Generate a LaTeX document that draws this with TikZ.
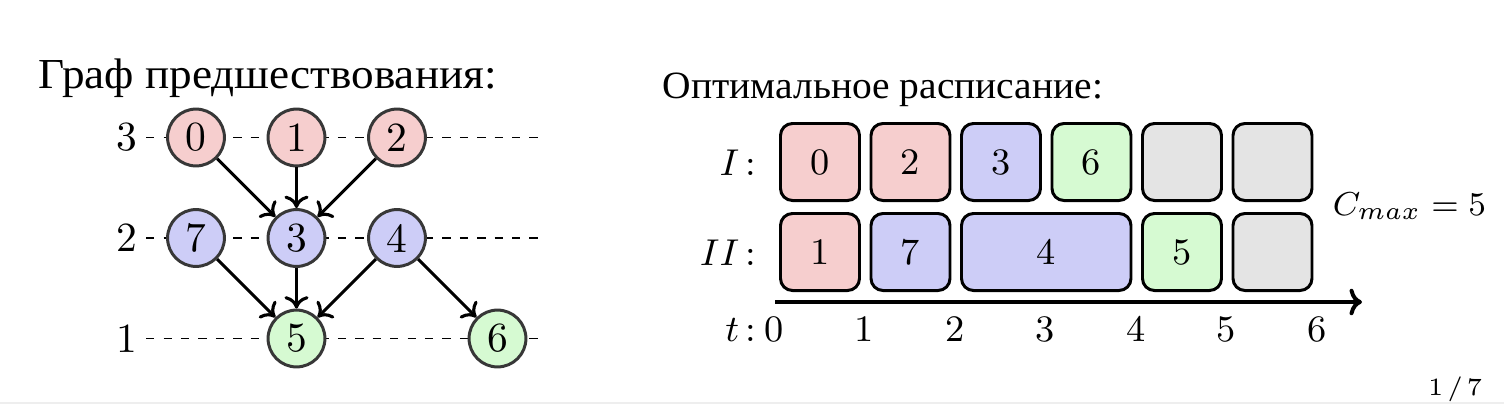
\documentclass[tikz,border=0pt]{standalone}
\usepackage{fontspec}
\usepackage{graphicx}
\usetikzlibrary{arrows.meta}
\newfontfamily\cyrfont{Liberation Serif}
\definecolor{cred}{RGB}{246,206,206}
\definecolor{cblue}{RGB}{205,205,247}
\definecolor{cgreen}{RGB}{214,250,210}
\definecolor{cgray}{RGB}{228,228,228}
\definecolor{cborder}{RGB}{55,55,55}
\definecolor{cfoot}{RGB}{238,238,238}
\begin{document}
\begin{tikzpicture}[x=0.241pt,y=-0.241pt,
  bigtxt/.style={font=\fontsize{10}{12}\selectfont},
  smalltxt/.style={font=\fontsize{9}{11}\selectfont},
  vtx/.style={circle,draw=cborder,line width=0.72pt,minimum size=13.7pt,inner sep=0pt,bigtxt},
  rvtx/.style={vtx,fill=cred},
  bvtx/.style={vtx,fill=cblue},
  gvtx/.style={vtx,fill=cgreen},
  lvl/.style={inner sep=0pt,bigtxt},
  guide/.style={line width=0.4pt,dash pattern=on 2pt off 2.2pt},
  dep/.style={-{To[length=3pt,width=5.8pt]},line width=0.75pt},
  job/.style={draw=black,line width=0.72pt,rounded corners=2.9pt,minimum width=19.04pt,minimum height=18.56pt,inner sep=0pt,smalltxt},
  rjob/.style={job,fill=cred},
  bjob/.style={job,fill=cblue},
  gjob/.style={job,fill=cgreen},
  ejob/.style={job,fill=cgray},
  axisline/.style={-{To[length=3pt,width=6.4pt]},line width=0.96pt},
  plain/.style={inner sep=0pt},
]
\useasboundingbox (0,0) rectangle (1504,404);

% ---- left: precedence graph ----
\node[plain,font=\cyrfont\fontsize{10.3}{12}\selectfont,anchor=base west] (title1) at (38,88) {\scalebox{1.058}[1]{Граф предшествования:}};

\node[lvl] (l3) at (127,137.5) {3};
\node[lvl] (l2) at (127,238) {2};
\node[lvl] (l1) at (127,338.5) {1};
\coordinate (g3) at (540,137.5);
\coordinate (g2) at (540,238);
\coordinate (g1) at (540,338.5);
\draw[guide] ([xshift=1.9pt]l3.east) -- (g3);
\draw[guide] ([xshift=1.9pt]l2.east) -- (g2);
\draw[guide] ([xshift=1.9pt]l1.east) -- (g1);

\node[rvtx] (n0) at (196,137.5) {0};
\node[rvtx] (n1) at (296.5,137.5) {1};
\node[rvtx] (n2) at (397,137.5) {2};
\node[bvtx] (n7) at (196,238) {7};
\node[bvtx] (n3) at (296.5,238) {3};
\node[bvtx] (n4) at (397,238) {4};
\node[gvtx] (n5) at (296.5,338.5) {5};
\node[gvtx] (n6) at (497.5,338.5) {6};

\draw[dep] (n0) -- (n3);
\draw[dep] (n1) -- (n3);
\draw[dep] (n2) -- (n3);
\draw[dep] (n7) -- (n5);
\draw[dep] (n3) -- (n5);
\draw[dep] (n4) -- (n5);
\draw[dep] (n4) -- (n6);

% ---- right: schedule ----
\node[plain,font=\cyrfont\fontsize{9.3}{11}\selectfont,anchor=base west] (title2) at (662,98) {\scalebox{1.023}[1]{Оптимальное расписание:}};

\node[plain,smalltxt,anchor=base east] (m1) at (757,175) {$I$\,:};
\node[plain,smalltxt,anchor=base east] (m2) at (757,265) {$II$\,:};

\node[rjob] (j0) at (820,162) {0};
\node[rjob] (j2) at (910.5,162) {2};
\node[bjob] (j3) at (1001,162) {3};
\node[gjob] (j6) at (1091.5,162) {6};
\node[ejob] (e1) at (1182,162) {};
\node[ejob] (e2) at (1272.5,162) {};

\node[rjob] (j1) at (820,252) {1};
\node[bjob] (j7) at (910.5,252) {7};
\node[bjob,minimum width=40.85pt] (j4) at (1046.25,252) {4};
\node[gjob] (j5) at (1182,252) {5};
\node[ejob] (e3) at (1272.5,252) {};

\coordinate (a0) at (775,302);
\coordinate (a1) at (1362,302);
\draw[axisline] (a0) -- (a1);

\node[plain,smalltxt,anchor=base east] (tl) at (757,341) {$t$\,:};
\foreach \k/\xx in {0/774,1/864.5,2/955,3/1045.5,4/1136,5/1226.5,6/1317}{
  \node[plain,smalltxt,anchor=base] (tk\k) at (\xx,341) {\k};
}

\node[plain,font=\fontsize{8.5}{10}\selectfont,anchor=base west] (cmax) at (1332,215) {$C_{max}=5$};

% ---- footer ----
\node[plain,font=\fontsize{6}{7}\selectfont,anchor=base east] (pg) at (1483,395) {1\,/\,7};
\draw[cfoot,line width=0.3pt] (0,403) -- (1504,403);
\end{tikzpicture}
\end{document}
